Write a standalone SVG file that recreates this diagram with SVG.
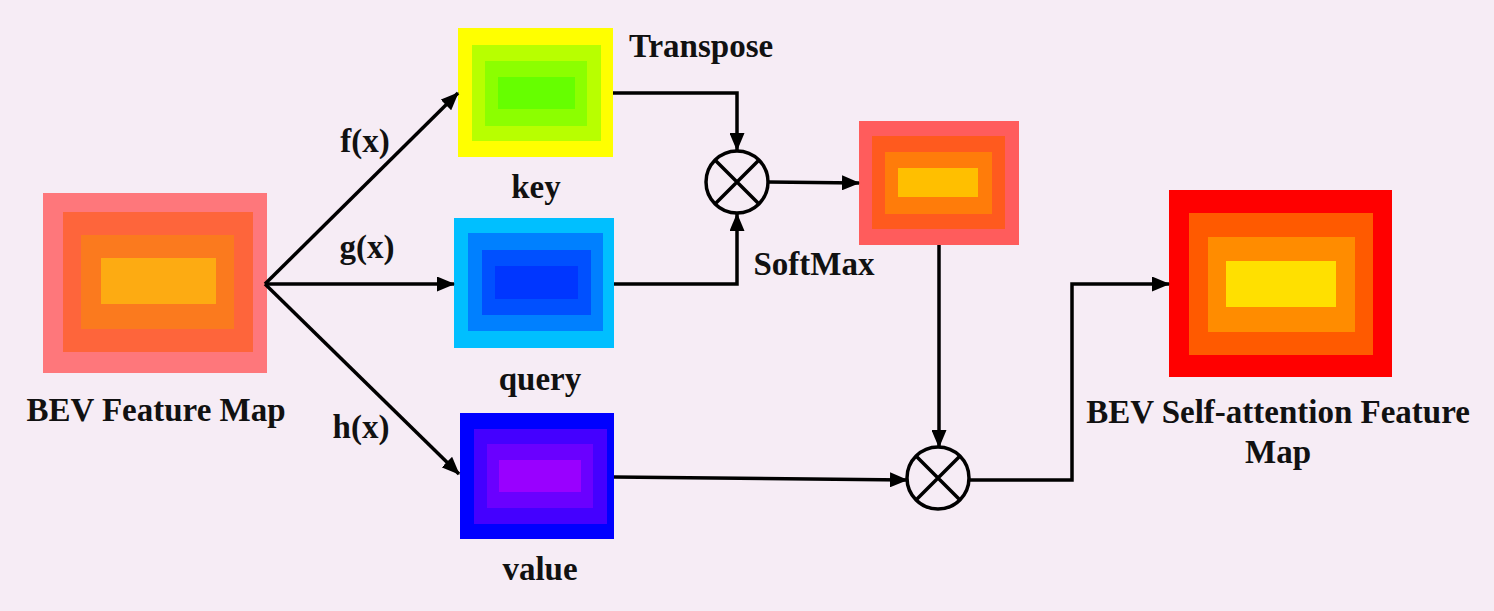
<svg xmlns="http://www.w3.org/2000/svg" width="1494" height="611" viewBox="0 0 1494 611">
<defs>
<marker id="ah" viewBox="0 0 18 15" refX="17" refY="7.5" markerWidth="18" markerHeight="15" markerUnits="userSpaceOnUse" orient="auto">
<path d="M0,0 L18,7.5 L0,15 Z" fill="#000"/>
</marker>
</defs>
<style>
text{font-family:"Liberation Serif","Times New Roman",serif;font-weight:bold;font-size:33px;fill:#111}
.ln{fill:none;stroke:#000;stroke-width:3.5}
.op{fill:none;stroke:#000;stroke-width:3.5}
</style>
<rect x="0" y="0" width="1494" height="611" fill="#f6ecf5"/>
<g id="bev">
<rect x="43" y="193" width="224" height="180" fill="#fe777b"/>
<rect x="63" y="212" width="190" height="140" fill="#fe653b"/>
<rect x="81" y="235" width="153" height="94" fill="#fb7a1e"/>
<rect x="101" y="258" width="115" height="46" fill="#fdab12"/>
<text x="156" y="421" text-anchor="middle">BEV Feature Map</text>
</g>
<g id="key">
<rect x="458" y="28" width="155" height="129" fill="#ffff00"/>
<rect x="472" y="45" width="129" height="96" fill="#b8ff00"/>
<rect x="485" y="61" width="102" height="65" fill="#8cff00"/>
<rect x="498" y="77" width="77" height="32" fill="#66ff00"/>
<text x="536" y="198" text-anchor="middle">key</text>
<text x="701" y="57" text-anchor="middle">Transpose</text>
</g>
<g id="query">
<rect x="454" y="218" width="160" height="130" fill="#00bfff"/>
<rect x="468" y="233" width="135" height="98" fill="#0080ff"/>
<rect x="482" y="250" width="109" height="65" fill="#0050ff"/>
<rect x="495" y="266" width="83" height="33" fill="#0036ff"/>
<text x="540" y="390" text-anchor="middle">query</text>
</g>
<g id="value">
<rect x="460" y="413" width="154" height="126" fill="#0000ff"/>
<rect x="474" y="429" width="133" height="95" fill="#4400ff"/>
<rect x="487" y="444" width="106" height="64" fill="#6a00ff"/>
<rect x="499" y="460" width="82" height="32" fill="#9900ff"/>
<text x="540" y="580" text-anchor="middle">value</text>
</g>
<g id="mul1">
<circle cx="737" cy="182" r="31" class="op"/>
<path d="M715,160 L759,204 M759,160 L715,204" class="op"/>
</g>
<g id="softmax">
<rect x="859" y="121" width="160" height="124" fill="#ff5c5c"/>
<rect x="872" y="136" width="133" height="93" fill="#ff5a1e"/>
<rect x="885" y="152" width="107" height="62" fill="#ff7c0a"/>
<rect x="898" y="168" width="80" height="29" fill="#ffbf00"/>
<text x="814" y="275" text-anchor="middle">SoftMax</text>
</g>
<g id="mul2">
<circle cx="938" cy="478" r="31" class="op"/>
<path d="M916,456 L960,500 M960,456 L916,500" class="op"/>
</g>
<g id="output">
<rect x="1169" y="190" width="223" height="187" fill="#ff0000"/>
<rect x="1189" y="213" width="184" height="142" fill="#ff5a00"/>
<rect x="1208" y="237" width="147" height="95" fill="#ff8c00"/>
<rect x="1226" y="261" width="110" height="46" fill="#ffe000"/>
<text x="1278" y="423" text-anchor="middle">BEV Self-attention Feature</text>
<text x="1278" y="463" text-anchor="middle">Map</text>
</g>
<g id="connectors">
<path d="M265,284 L458,93" class="ln" marker-end="url(#ah)"/>
<path d="M265,284 L454,284" class="ln" marker-end="url(#ah)"/>
<path d="M265,284 L459,474" class="ln" marker-end="url(#ah)"/>
<path d="M613,93 L737,93 L737,150" class="ln" marker-end="url(#ah)"/>
<path d="M614,284 L737,284 L737,214" class="ln" marker-end="url(#ah)"/>
<path d="M768,182 L859,183" class="ln" marker-end="url(#ah)"/>
<path d="M939,245 L939,447" class="ln" marker-end="url(#ah)"/>
<path d="M614,477 L907,480" class="ln" marker-end="url(#ah)"/>
<path d="M969,480 L1072,480 L1072,284 L1169,284" class="ln" marker-end="url(#ah)"/>
<text x="365" y="152" text-anchor="middle">f(x)</text>
<text x="367" y="258" text-anchor="middle">g(x)</text>
<text x="361" y="438" text-anchor="middle">h(x)</text>
</g>
</svg>
